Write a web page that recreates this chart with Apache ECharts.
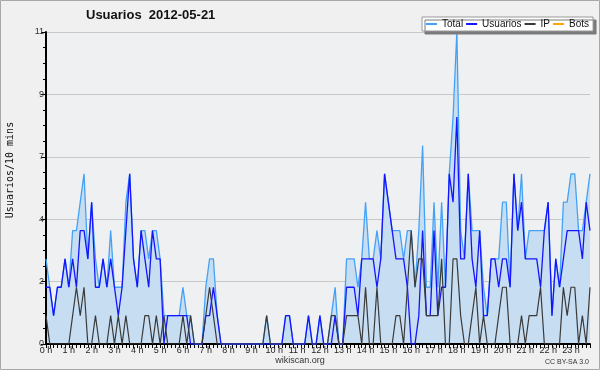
<!DOCTYPE html>
<html>
<head>
<meta charset="utf-8">
<script src="https://cdn.jsdelivr.net/npm/echarts@6/dist/echarts.min.js"></script>
<style>
html,body{margin:0;padding:0;background:#f0f0f0;}
#c{width:600px;height:370px;}
</style>
</head>
<body>
<div id="c"></div>
<script>
// Tick labels (hours) and y tick values
var hourLabels = ['0 h','1 h','2 h','3 h','4 h','5 h','6 h','7 h','8 h','9 h','10 h','11 h',
  '12 h','13 h','14 h','15 h','16 h','17 h','18 h','19 h','20 h','21 h','22 h','23 h'];
var minutes = ['00','10','20','30','40','50'];

// Series values, one per 10 minutes (144 points)
var total = [
  3,2,1,2,2,3, 2,4,4,5,6,3, 5,3,2,3,2,4, 2,2,2,5,6,3,
  2,4,4,3,4,4, 3,1,1,1,1,1, 2,1,1,0,0,0, 2,3,3,1,0,0,
  0,0,0,0,0,0, 0,0,0,0,1,0, 0,0,0,1,1,0, 0,0,0,1,0,0,
  1,0,0,1,2,0, 0,3,3,3,2,3, 5,3,3,4,3,6, 5,4,4,4,3,4,
  4,2,4,7,2,2, 5,2,5,2,6,8, 11,4,3,6,4,4, 4,2,1,3,3,3,
  5,5,2,6,4,6, 3,4,4,4,4,4, 5,1,3,2,5,5, 6,6,4,4,5,6
];
var usuarios = [
  2,2,1,2,2,3, 2,3,2,4,4,3, 5,2,2,3,2,3, 2,1,2,4,6,3,
  2,4,3,2,4,3, 3,0,1,1,1,1, 1,1,0,0,0,0, 1,1,2,1,0,0,
  0,0,0,0,0,0, 0,0,0,0,0,0, 0,0,0,1,1,0, 0,0,0,1,0,0,
  1,0,0,0,1,0, 0,2,2,2,1,3, 3,3,3,2,3,6, 5,4,3,3,3,2,
  0,0,1,4,1,1, 4,1,2,2,6,5, 8,3,3,6,3,2, 4,1,1,3,3,2,
  3,3,2,6,4,5, 3,3,3,3,2,4, 5,1,3,2,3,4, 4,4,4,3,5,4
];
var ip = [
  1,0,0,0,0,0, 0,1,2,1,2,0, 0,1,0,0,0,1, 0,1,0,1,0,0,
  0,0,1,1,0,1, 0,1,0,0,0,0, 1,0,1,0,0,0, 1,2,1,0,0,0,
  0,0,0,0,0,0, 0,0,0,0,1,0, 0,0,0,0,0,0, 0,0,0,0,0,0,
  0,0,0,1,1,0, 0,1,1,1,1,0, 2,0,0,2,0,0, 0,0,1,1,0,2,
  4,2,3,3,1,1, 1,1,3,0,0,3, 3,1,0,0,1,2, 0,1,0,0,0,1,
  2,2,0,0,0,1, 0,1,1,1,2,0, 0,0,0,0,2,1, 2,2,0,1,0,2
];
var bots = [
  0,0,0,0,0,0, 0,0,0,0,0,0, 0,0,0,0,0,0, 0,0,0,0,0,0,
  0,0,0,0,0,0, 0,0,0,0,0,0, 0,0,0,0,0,0, 0,0,0,0,0,0,
  0,0,0,0,0,0, 0,0,0,0,0,0, 0,0,0,0,0,0, 0,0,0,0,0,0,
  0,0,0,0,0,0, 0,0,0,0,0,0, 0,0,0,0,0,0, 0,0,0,0,0,0,
  0,0,0,0,0,0, 0,0,0,0,0,0, 0,0,0,0,0,0, 0,0,0,0,0,0,
  0,0,0,0,0,0, 0,0,0,0,0,0, 0,0,0,0,0,0, 0,0,0,0,0,0
];

var categories = [];
for (var h = 0; h < 24; h++) {
  for (var m = 0; m < minutes.length; m++) categories.push(h + ':' + minutes[m]);
}

var chart = echarts.init(document.getElementById('c'), null, {renderer: 'canvas'});
var FONT = 'Liberation Sans';
chart.setOption({
  animation: false,
  backgroundColor: '#f0f0f0',
  grid: {left: 46, right: 10, top: 32, bottom: 26, show: true, backgroundColor: '#eef0f2', borderWidth: 0},
  legend: {
    left: 422, top: 17,
    padding: [2, 4, 2, 4],
    itemGap: 3,
    itemWidth: 11, itemHeight: 2,
    icon: 'rect',
    backgroundColor: '#ffffff',
    borderColor: '#999999', borderWidth: 1,
    shadowColor: '#7a7a7a', shadowBlur: 0, shadowOffsetX: 3, shadowOffsetY: 3,
    textStyle: {fontFamily: FONT, fontSize: 10, color: '#111'},
    data: ['Total', 'Usuarios', 'IP', 'Bots']
  },
  xAxis: {
    type: 'category', data: categories, boundaryGap: false, z: 3,
    axisLine: {lineStyle: {color: '#000', width: 2}},
    axisTick: {interval: 0, length: 4, lineStyle: {color: '#000', width: 1}},
    axisLabel: {
      interval: 5, margin: 2, fontFamily: FONT, fontSize: 9, color: '#222',
      formatter: function (v, idx) { return idx % 6 === 0 ? hourLabels[idx / 6] : ''; }
    },
    splitLine: {show: false}
  },
  yAxis: {
    type: 'value', min: 0, max: 11, interval: 2.2, z: 3,
    axisLine: {show: true, lineStyle: {color: '#000', width: 2}},
    axisTick: {show: true, length: 5, lineStyle: {color: '#000'}},
    minorTick: {show: true, splitNumber: 4, length: 3, lineStyle: {color: '#000'}},
    axisLabel: {margin: 2, fontFamily: FONT, fontSize: 9, color: '#333',
      formatter: function (v) { return String(Math.round(v)); }},
    splitLine: {show: true, lineStyle: {color: '#c8c8c8', width: 1}}
  },
  series: [
    {name: 'Total', type: 'line', data: total, showSymbol: false, symbol: 'none',
      itemStyle: {color: '#44a2f6'}, lineStyle: {color: '#44a2f6', width: 1.3},
      areaStyle: {color: '#c7ddf1', opacity: 1}},
    {name: 'Usuarios', type: 'line', data: usuarios, showSymbol: false, symbol: 'none',
      itemStyle: {color: '#1414ff'}, lineStyle: {color: '#1414ff', width: 1.3}},
    {name: 'IP', type: 'line', data: ip, showSymbol: false, symbol: 'none',
      itemStyle: {color: '#3a3a3a'}, lineStyle: {color: '#3a3a3a', width: 1.2}},
    {name: 'Bots', type: 'line', data: bots, showSymbol: false, symbol: 'none', z: 1,
      itemStyle: {color: '#ffa500'}, lineStyle: {color: '#ffa500', width: 1}}
  ],
  graphic: [
    {type: 'rect', shape: {x: 0.5, y: 0.5, width: 599, height: 369}, style: {fill: null, stroke: '#a8a8a8', lineWidth: 1}, z: 10},
    {type: 'text', left: 86, top: 9, style: {text: 'Usuarios  2012-05-21', font: 'bold 13px "Liberation Sans"', fill: '#111'}},
    {type: 'text', x: 10, y: 170, rotation: Math.PI / 2,
      style: {text: 'Usuarios/10 mins', font: '10px "DejaVu Sans Mono"', fill: '#111', align: 'center', verticalAlign: 'middle'}},
    {type: 'text', x: 300, y: 361, style: {text: 'wikiscan.org', font: '9px "Liberation Sans"', fill: '#333', align: 'center', verticalAlign: 'middle'}},
    {type: 'text', x: 589, y: 362, style: {text: 'CC BY-SA 3.0', font: '7px "Liberation Sans"', fill: '#333', align: 'right', verticalAlign: 'middle'}}
  ]
});
</script>
</body>
</html>
